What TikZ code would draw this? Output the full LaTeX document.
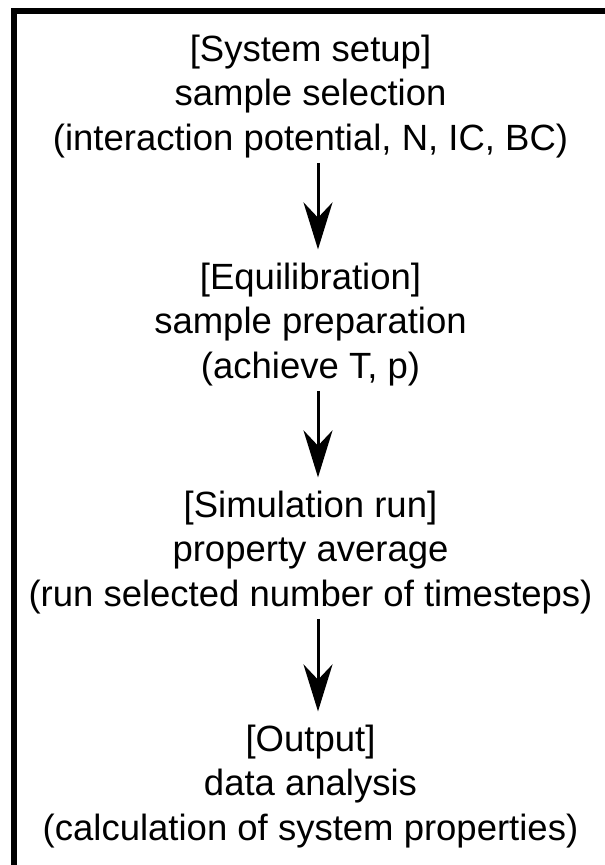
\documentclass[tikz,border=0pt]{standalone}
\usepackage{fontspec}
\setmainfont{Liberation Sans}
\usepackage{tikz}
\usetikzlibrary{arrows.meta, positioning}
\tikzset{>={Stealth[length=47pt,width=29pt]}}
\tikzset{
	stagebox/.style={align=center, inner sep=3pt, anchor=north, font=\fontsize{36.5}{44.5}\selectfont},
	flowarrow/.style={->, line width=3pt, shorten <=2pt, shorten >=10pt}
}

\begin{document}
\begin{tikzpicture}[x=1pt, y=1pt]
		\useasboundingbox (0,0) rectangle (605,-865);
		\draw [line width=6pt] (14,-1000) -- (14,-11.3) -- (700,-11.3);
		\node[stagebox] (setup) at (310.5,-31.4) {[System setup]\\sample selection\\(interaction potential, N, IC, BC)};
		\node[stagebox] (equil) at (310.5,-259.4) {[Equilibration]\\sample preparation\\(achieve T, p)};
		\node[stagebox] (simrun) at (310.5,-487.4) {[Simulation run]\\property average\\(run selected number of timesteps)};
		\node[stagebox] (output) at (310.5,-721.4) {[Output]\\data analysis\\(calculation of system properties)};
		\draw [flowarrow] ([xshift=7.5pt]setup.south) -- ([xshift=7.5pt]equil.north);
		\draw [flowarrow] ([xshift=7.5pt]equil.south) -- ([xshift=7.5pt]simrun.north);
		\draw [flowarrow] ([xshift=7.5pt]simrun.south) -- ([xshift=7.5pt]output.north);
	\end{tikzpicture}
\end{document}
